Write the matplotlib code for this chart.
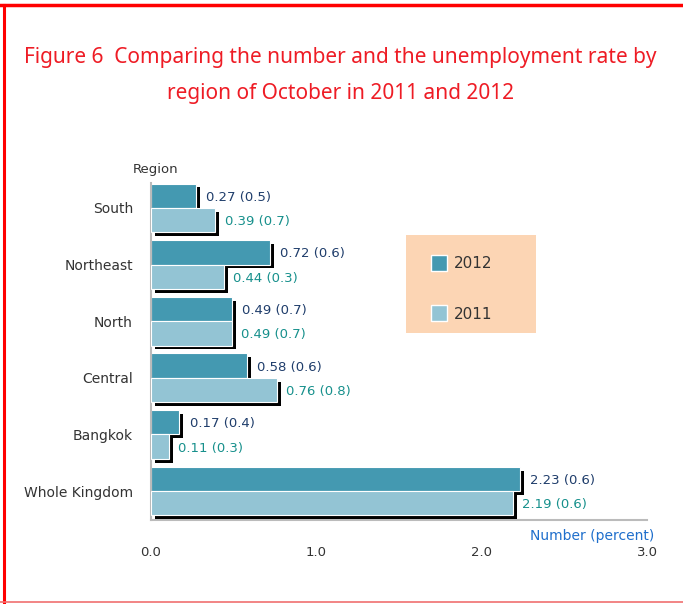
import numpy as np
import matplotlib
matplotlib.use("Agg")
from matplotlib import pyplot as plt
from matplotlib import patheffects
from matplotlib.lines import Line2D
from matplotlib.patches import Rectangle

# data: number (million persons) and rate (percent)
regions = ['South', 'Northeast', 'North', 'Central', 'Bangkok', 'Whole Kingdom']
num_2012 = [0.27, 0.72, 0.49, 0.58, 0.17, 2.23]
rate_2012 = [0.5, 0.6, 0.7, 0.6, 0.4, 0.6]
num_2011 = [0.39, 0.44, 0.49, 0.76, 0.11, 2.19]
rate_2011 = [0.7, 0.3, 0.7, 0.8, 0.3, 0.6]
xticks = [0.0, 1.0, 2.0, 3.0]

dark = '#4499B1'
light = '#93C4D4'
navy = '#1F3D6B'
teal = '#17908C'
grey_txt = '#333333'

plt.rcParams['font.family'] = ['DejaVu Sans']

fig = plt.figure(figsize=(6.83, 6.04), dpi=100)
ax = fig.add_axes([151 / 683, 1 - 520 / 604, 496 / 683, 337 / 604])

y = np.arange(len(regions))
h = 0.43
shadow = [patheffects.SimplePatchShadow(offset=(2.8, -2.8), shadow_rgbFace='black', alpha=1.0),
          patheffects.Normal()]

b12 = ax.barh(y - h / 2, num_2012, height=h, color=dark, edgecolor='white', linewidth=0.8, zorder=2)
b11 = ax.barh(y + h / 2, num_2011, height=h, color=light, edgecolor='white', linewidth=0.8, zorder=3)
for bar in list(b12) + list(b11):
    bar.set_path_effects(shadow)

# value labels
for i in range(len(regions)):
    ax.annotate(f"{num_2012[i]:.2f} ({rate_2012[i]})", (num_2012[i], y[i] - h / 2),
                xytext=(7.5, -1), textcoords='offset points', va='center', ha='left',
                fontsize=9.5, color=navy)
    ax.annotate(f"{num_2011[i]:.2f} ({rate_2011[i]})", (num_2011[i], y[i] + h / 2),
                xytext=(6.5, -1), textcoords='offset points', va='center', ha='left',
                fontsize=9.5, color=teal)

ax.set_xlim(0, 3)
ax.set_ylim(len(regions) - 0.49, -0.44)
ax.set_xticks(xticks)
ax.set_xticklabels([f"{t:.1f}" for t in xticks], fontsize=9.5, color=grey_txt)
ax.set_yticks(y)
ax.set_yticklabels(regions, fontsize=10, color=grey_txt)
ax.tick_params(axis='both', length=0)
ax.tick_params(axis='x', pad=19)
ax.tick_params(axis='y', pad=13)
for side in ['top', 'right']:
    ax.spines[side].set_visible(False)
for side in ['left', 'bottom']:
    ax.spines[side].set_color('#BBBBBB')
    ax.spines[side].set_linewidth(1.5)

ax.text(0.01, 1.02, 'Region', transform=ax.transAxes, ha='center', va='bottom',
        fontsize=9.5, color=grey_txt)
ax.text(1.015, -0.027, 'Number (percent)', transform=ax.transAxes, ha='right', va='top',
        fontsize=10, color='#1F6FCC')

# legend box
ax.add_patch(Rectangle((0.514, 0.555), 0.262, 0.291, transform=ax.transAxes,
                       facecolor='#FCD5B4', edgecolor='none', zorder=1, clip_on=False))
handles = [Line2D([], [], marker='s', linestyle='none', markersize=11,
                  markerfacecolor=c, markeredgecolor='white', markeredgewidth=1)
           for c in [dark, light]]
ax.legend(handles, ['2012', '2011'], loc='upper left', bbox_to_anchor=(0.54, 0.82),
          frameon=False, fontsize=11, labelspacing=2.35, handletextpad=0.5,
          handlelength=1.0, borderpad=0.3, labelcolor=grey_txt)

fig.text(0.498, 1 - 57 / 604, 'Figure 6  Comparing the number and the unemployment rate by',
         ha='center', va='center', fontsize=15, color='#EE1C25', family='Noto Sans')
fig.text(0.498, 1 - 93 / 604, 'region of October in 2011 and 2012',
         ha='center', va='center', fontsize=15, color='#EE1C25', family='Noto Sans')

# red frame
fig.add_artist(Line2D([0, 1], [1 - 5 / 604, 1 - 5 / 604], transform=fig.transFigure, color='red', lw=2.5))
fig.add_artist(Line2D([3.5 / 683, 3.5 / 683], [0, 1 - 5 / 604], transform=fig.transFigure, color='red', lw=2.2))
fig.add_artist(Line2D([0, 1], [2 / 604, 2 / 604], transform=fig.transFigure, color='#F07070', lw=1.2))

fig.savefig('out.png', dpi=100)
